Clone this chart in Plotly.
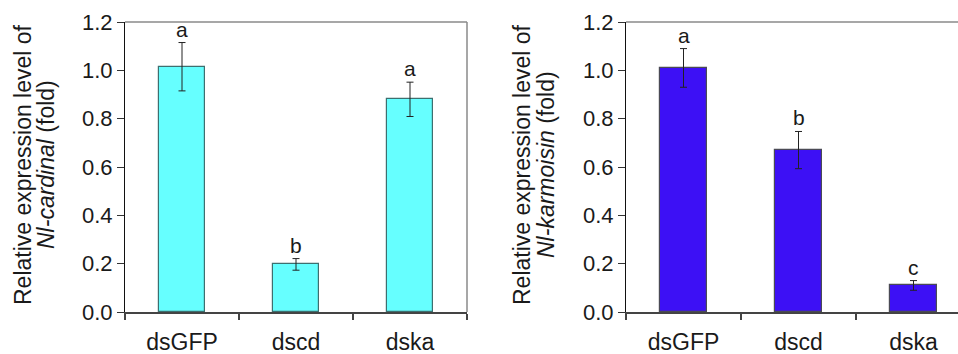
import plotly.graph_objects as go

categories = ["dsGFP", "dscd", "dska"]
cardinal_mean = [1.015, 0.197, 0.88]
cardinal_err = [0.10, 0.024, 0.071]
cardinal_letters = ["a", "b", "a"]
karmoisin_mean = [1.01, 0.67, 0.11]
karmoisin_err = [0.08, 0.077, 0.02]
karmoisin_letters = ["a", "b", "c"]
yticks = [0.0, 0.2, 0.4, 0.6, 0.8, 1.0, 1.2]

FONT = "Liberation Sans, Arial, sans-serif"
TXT = "#1a1a1a"
W, H = 958, 354
xpos = list(range(len(categories)))

fig = go.Figure()
fig.add_trace(go.Bar(
    x=xpos, y=cardinal_mean, width=0.4,
    marker=dict(color="#66FFFF", line=dict(color="#3d6f6f", width=1.2)),
    error_y=dict(type="data", array=cardinal_err, color="#222", thickness=1, width=3.5),
    xaxis="x", yaxis="y", showlegend=False))
fig.add_trace(go.Bar(
    x=xpos, y=karmoisin_mean, width=0.41,
    marker=dict(color="#3D10F5", line=dict(color="#4a4a55", width=1.2)),
    error_y=dict(type="data", array=karmoisin_err, color="#222", thickness=1, width=3.5),
    xaxis="x2", yaxis="y2", showlegend=False))

ydom = [(354 - 312) / H, (354 - 22) / H]

def xax(domain, rng):
    return dict(domain=domain, range=rng, tickmode="array", tickvals=xpos,
                ticktext=categories, ticks="outside", ticklen=9, automargin=False,
                tickcolor="rgba(0,0,0,0)", showline=True, linecolor="#444",
                linewidth=1.5, mirror=False, showgrid=False, zeroline=False,
                tickfont=dict(family=FONT, size=23, color=TXT),
                minor=dict(tickmode="linear", tick0=-0.5, dtick=1, ticks="outside",
                           ticklen=6, tickcolor="#444", tickwidth=1.5, showgrid=False))

def yax(anchor):
    return dict(domain=ydom, range=[0, 1.2], anchor=anchor, tickmode="array",
                tickvals=yticks, tickformat=".1f", ticks="outside", ticklen=7,
                automargin=False,
                tickcolor="#333", showline=True, linecolor="#111", linewidth=1.2,
                mirror=False, showgrid=False, zeroline=False,
                tickfont=dict(family=FONT, size=22, color=TXT))

xa = xax([125 / W, 467 / W], [-0.5, 2.5])
xa2 = xax([626 / W, 1.0], [-0.5, 2.387])
BORDER = dict(color="#8a8a8a", width=1.5)
shapes = [
    dict(type="line", xref="x domain", yref="y domain", x0=0, x1=1, y0=1, y1=1, line=BORDER),
    dict(type="line", xref="x domain", yref="y domain", x0=1, x1=1, y0=0, y1=1, line=BORDER),
    dict(type="line", xref="x2 domain", yref="y2 domain", x0=0, x1=1, y0=1, y1=1, line=BORDER),
]
fig.update_layout(
    width=W, height=H, margin=dict(l=0, r=0, t=0, b=0, pad=0, autoexpand=False),
    plot_bgcolor="white", paper_bgcolor="white", bargap=0,
    xaxis=dict(xa, anchor="y"), yaxis=yax("x"),
    xaxis2=dict(xa2, anchor="y2"), yaxis2=yax("x2"),
    shapes=shapes,
)

ann = []
for i in xpos:
    ann.append(dict(x=i, y=cardinal_mean[i] + cardinal_err[i], xref="x", yref="y",
                    text=cardinal_letters[i], showarrow=False, yanchor="bottom", yshift=0,
                    font=dict(family=FONT, size=21, color=TXT)))
    ann.append(dict(x=i, y=karmoisin_mean[i] + karmoisin_err[i], xref="x2", yref="y2",
                    text=karmoisin_letters[i], showarrow=False, yanchor="bottom", yshift=0,
                    font=dict(family=FONT, size=21, color=TXT)))
ymid = (354 - 165) / H
titles = [
    (23, "Relative expression level of"), (46, "<i>Nl-cardinal</i> (fold)"),
    (522, "Relative expression level of"), (546, "<i>Nl-karmoisin</i> (fold)"),
]
for px, t in titles:
    ann.append(dict(x=px / W, y=ymid, xref="paper", yref="paper", textangle=-90,
                    text=t, showarrow=False, xanchor="center", yanchor="middle",
                    font=dict(family=FONT, size=23, color=TXT)))
fig.update_layout(annotations=ann)

fig.write_html("out.html", config={"displayModeBar": False},
               post_script="document.body.style.margin='0';document.body.style.overflow='hidden';")
